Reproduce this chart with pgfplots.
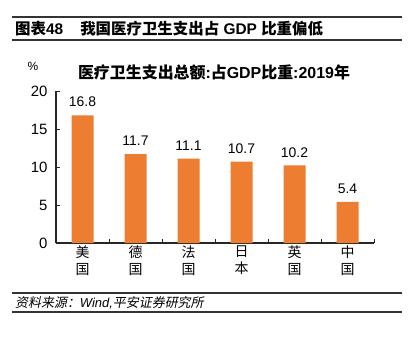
\documentclass[border=0pt]{standalone}
\usepackage{fontspec}
\setmainfont{Liberation Sans}
\newfontfamily\cjk{Noto Sans CJK SC}
\newfontfamily\cjksl{Noto Sans CJK SC}[FakeSlant=0.2]
\usepackage{pgfplots}
\pgfplotsset{compat=1.18}
\definecolor{barorange}{RGB}{237,125,49}
\begin{document}
\begin{tikzpicture}
\useasboundingbox (0,0) rectangle (418bp,-339bp);
\draw[line width=1.2bp, black!80] (12bp,-17bp) -- (402bp,-17bp);
\draw[line width=1.2bp, black!80] (12bp,-40bp) -- (402bp,-40bp);
\node[anchor=west, inner sep=0pt] at (15bp,-28.5bp) {\fontsize{15.5}{15.5}\selectfont\bfseries{\cjk 图表}48\hspace{17bp}{\cjk 我国医疗卫生支出占} GDP {\cjk 比重偏低}};
\node[inner sep=0pt] at (214bp,-72bp) {\fontsize{16}{16}\selectfont\bfseries{\cjk 医疗卫生支出总额}:{\cjk 占}GDP{\cjk 比重}:2019{\cjk 年}};
\node[inner sep=0pt] at (33bp,-66bp) {\fontsize{12}{12}\selectfont\%};
\begin{axis}[
  at={(56bp,-243bp)}, anchor=south west,
  width=318bp, height=152bp, scale only axis,
  xmin=-0.5, xmax=5.5, ymin=0, ymax=20,
  axis x line*=bottom, axis y line*=left,
  axis line style={line width=1.2bp, black!85, -},
  tick align=inside,
  major tick length=4bp, minor tick length=4bp,
  tick style={line width=1bp, black!85},
  xtick={0,1,2,3,4,5},
  minor xtick={0.5,1.5,2.5,3.5,4.5,5.5},
  major x tick style={draw=none},
  xticklabels={{美\\国},{德\\国},{法\\国},{日\\本},{英\\国},{中\\国}},
  x tick label style={align=center, font=\cjk\fontsize{14}{17}\selectfont, yshift=1bp},
  ytick={0,5,10,15,20},
  y tick label style={font=\fontsize{15}{15}\selectfont, xshift=-5bp},
  /pgf/number format/assume math mode=true,
  clip=false,
]
\addplot[ybar, bar width=22bp, fill=barorange, draw=none,
  nodes near coords, point meta=explicit symbolic,
  every node near coord/.append style={font=\fontsize{14}{14}\selectfont, inner sep=0pt, anchor=south, yshift=8bp}]
  coordinates {(0,16.8)[16.8] (1,11.7)[11.7] (2,11.1)[11.1] (3,10.7)[10.7] (4,10.2)[10.2] (5,5.4)[5.4]};
\end{axis}
\draw[line width=1.2bp, black!80] (12bp,-293bp) -- (402bp,-293bp);
\draw[line width=1.2bp, black!80] (12bp,-312bp) -- (402bp,-312bp);
\node[anchor=west, inner sep=0pt] at (15bp,-302.5bp) {\fontsize{13}{13}\selectfont{\cjksl 资料来源：}{\itshape Wind,}{\cjksl 平安证券研究所}};
\end{tikzpicture}
\end{document}
